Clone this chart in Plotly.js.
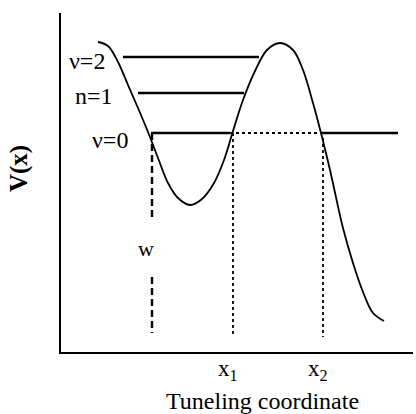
<!DOCTYPE html>
<html>
<head>
<meta charset="utf-8">
<script src="https://cdn.plot.ly/plotly-3.0.1.min.js"></script>
<style>html,body{margin:0;padding:0;background:#fff;}#chart{width:416px;height:414px;}</style>
</head>
<body>
<div id="chart"></div>
<script>
// Potential curve V(x) along the tunneling coordinate (arbitrary units)
var curveX = [37, 47, 57, 67, 77, 87, 97, 107, 117, 129, 141, 153, 163, 172, 182, 194, 206, 219, 232, 242, 252, 260, 269, 282, 292, 302, 312, 323];
var curveY = [310, 306, 290, 267, 244, 220, 194, 169, 154, 147, 153, 169, 192, 221, 252, 281, 302, 309, 302, 282, 249, 219, 182, 124, 89, 60, 39, 31];

// Energy levels
var levelNames = ["ν=2", "n=1", "ν=0"];
var levelE = [295, 259, 219];
var levelStart = [62, 77, 90];
var levelEnd = [198, 183, 337];

// Turning points on the ν=0 level
var turnX = [172, 262];
var turnNames = ["x<sub>1</sub>", "x<sub>2</sub>"];
var wellX = 91;          // left turning point (dashed marker)
var wellLabel = "w";
var floorY = 15;

var traces = [];
traces.push({x: curveX, y: curveY, mode: "lines", line: {color: "#000", width: 1.8, shape: "spline", smoothing: 1}, hoverinfo: "none"});
// ν=2 and n=1 full levels
for (var i = 0; i < 2; i++) {
  traces.push({x: [levelStart[i], levelEnd[i]], y: [levelE[i], levelE[i]], mode: "lines", line: {color: "#000", width: 2.6}, hoverinfo: "none"});
}
// ν=0: solid inside the well, dotted under the barrier, solid outside
traces.push({x: [levelStart[2], turnX[0] - 3], y: [levelE[2], levelE[2]], mode: "lines", line: {color: "#000", width: 2.6}, hoverinfo: "none"});
traces.push({x: [turnX[0] - 3, turnX[1] - 2], y: [levelE[2], levelE[2]], mode: "lines", line: {color: "#000", width: 1.8, dash: "dot"}, hoverinfo: "none"});
traces.push({x: [turnX[1] - 2, levelEnd[2]], y: [levelE[2], levelE[2]], mode: "lines", line: {color: "#000", width: 2.6}, hoverinfo: "none"});
// dotted verticals at x1, x2
for (var j = 0; j < 2; j++) {
  traces.push({x: [turnX[j], turnX[j]], y: [levelE[2] - (j === 0 ? 0 : 5), floorY], mode: "lines", line: {color: "#000", width: 1.8, dash: "dot"}, hoverinfo: "none"});
}
// dashed vertical at w, interrupted by its label
traces.push({x: [wellX, wellX], y: [levelE[2], 131], mode: "lines", line: {color: "#000", width: 2.4, dash: "7px,4px"}, hoverinfo: "none"});
traces.push({x: [wellX, wellX], y: [75, 19], mode: "lines", line: {color: "#000", width: 2.4, dash: "7px,4px"}, hoverinfo: "none"});

var font = {family: "Liberation Serif, Times New Roman, serif", size: 24, color: "#000"};
var ann = [];
var labelX = [46, 54, 69];
var labelY = [291, 256, 212];
for (var k = 0; k < 3; k++) {
  ann.push({x: labelX[k], y: labelY[k], xref: "x", yref: "y", text: levelNames[k], showarrow: false, xanchor: "right", yanchor: "middle", font: font});
}
ann.push({x: 85, y: 104, xref: "x", yref: "y", text: wellLabel, showarrow: false, xanchor: "center", yanchor: "middle", font: {family: font.family, size: 22, color: "#000"}});
for (var m = 0; m < 2; m++) {
  ann.push({x: turnX[m] - 5, y: -0.052, xref: "x", yref: "paper", text: turnNames[m], showarrow: false, xanchor: "center", yanchor: "middle", font: {family: font.family, size: 23, color: "#000"}});
}
ann.push({x: 201, y: -0.145, xref: "x", yref: "paper", text: "Tuneling coordinate", showarrow: false, xanchor: "center", yanchor: "middle", font: font});
ann.push({x: -0.119, y: 183, xref: "paper", yref: "y", text: "<b>V(x)</b>", textangle: -90, showarrow: false, xanchor: "center", yanchor: "middle", font: {family: font.family, size: 25, color: "#000"}});

var layout = {
  width: 416, height: 414,
  margin: {l: 61, r: 3, t: 13, b: 62},
  paper_bgcolor: "#fff", plot_bgcolor: "#fff",
  showlegend: false,
  xaxis: {range: [0, 352], showline: true, linecolor: "#000", linewidth: 2, showgrid: false, zeroline: false, showticklabels: false, ticks: "", fixedrange: true},
  yaxis: {range: [0, 339], showline: true, linecolor: "#000", linewidth: 2, showgrid: false, zeroline: false, showticklabels: false, ticks: "", fixedrange: true},
  annotations: ann,
  font: font
};
Plotly.newPlot("chart", traces, layout, {displayModeBar: false, staticPlot: true});
</script>
</body>
</html>
